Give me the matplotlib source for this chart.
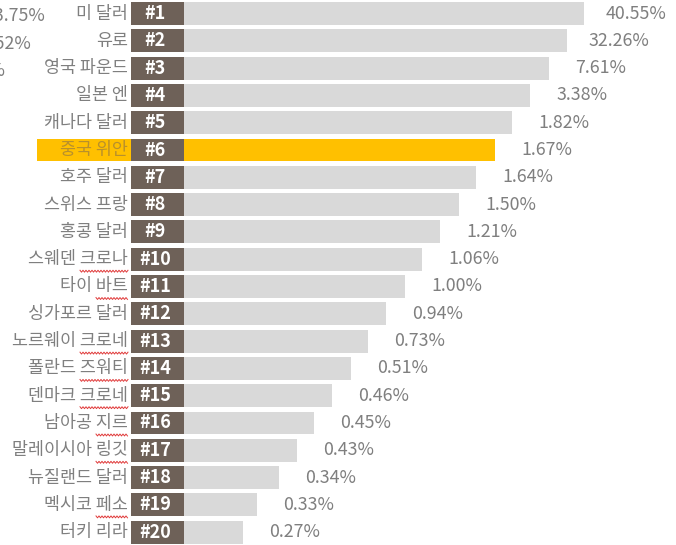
import matplotlib
matplotlib.use("Agg")
from matplotlib import pyplot as plt
import numpy as np

plt.rcParams["font.family"] = ["Noto Sans CJK KR", "DejaVu Sans"]

# Currency ranking (share of payments)
currencies = [
    "미 달러", "유로", "영국 파운드", "일본 엔", "캐나다 달러",
    "중국 위안", "호주 달러", "스위스 프랑", "홍콩 달러", "스웨덴 크로나",
    "타이 바트", "싱가포르 달러", "노르웨이 크로네", "폴란드 즈워티", "덴마크 크로네",
    "남아공 지르", "말레이시아 링깃", "뉴질랜드 달러", "멕시코 페소", "터키 리라",
]
shares = [
    40.55, 32.26, 7.61, 3.38, 1.82, 1.67, 1.64, 1.50, 1.21, 1.06,
    1.00, 0.94, 0.73, 0.51, 0.46, 0.45, 0.43, 0.34, 0.33, 0.27,
]
# displayed bar length (funnel style, not proportional to share)
bar_len = [453, 436, 418, 399, 381, 364, 345, 328, 309, 291,
           274, 255, 237, 220, 201, 183, 166, 148, 126, 112]
highlight = 5  # 중국 위안
# labels whose last word carries the spell-check squiggle
squiggled = [9, 10, 12, 13, 14, 15, 16, 18]

# cut-off labels from the neighbouring chart on the left
left_labels = ["33.75%", "25.52%", "5.45%"]
left_pos = [-86, -100, -125]

grey_bar = "#d9d9d9"
brown = "#6e6158"
gold = "#ffc000"
text_grey = "#7f7f7f"

fig = plt.figure(figsize=(6.76, 5.45), dpi=100)
ax = fig.add_axes([0, 0, 1, 1])
ax.set_xlim(-131, 545)
ax.set_ylim(19.47, -0.495)
ax.axis("off")

rows = np.arange(len(currencies))
h = 0.84

colors = [gold if i == highlight else grey_bar for i in rows]
ax.barh(rows, bar_len, height=h, color=colors, zorder=1)
# highlight band stretches under the label
ax.barh(highlight, 94, left=-94, height=h, color=gold, zorder=1)
# rank boxes
ax.barh(rows, 53, height=h, color=brown, zorder=2)

label_fs = 12.5
for i in rows:
    ax.text(24, i, f"#{i + 1}", ha="center", va="center", color="white",
            fontsize=13, fontweight="bold", zorder=3)
    ax.text(-3, i, currencies[i], ha="right", va="center", fontsize=label_fs,
            color="#b8902c" if i == highlight else text_grey, zorder=3)
    ax.text(bar_len[i] + 52, i, f"{shares[i]:.2f}%", ha="center", va="center",
            fontsize=12.8, color=text_grey, zorder=3)

for i, (lab, x) in enumerate(zip(left_labels, left_pos)):
    ax.text(x, i + 0.1, lab, ha="right", va="center", fontsize=12.8,
            color=text_grey)

# red wavy underline under the last word (1 data unit == 1 px horizontally)
renderer = fig.canvas.get_renderer()
for i in squiggled:
    word = currencies[i].split(" ")[-1]
    tmp = ax.text(0, 0, word, fontsize=label_fs)
    w = tmp.get_window_extent(renderer).width
    tmp.remove()
    xs = np.arange(-3 - w, -3 + 0.1, 1.5)
    ys = i + 0.44 + 0.035 * np.where(np.arange(len(xs)) % 2 == 0, -1, 1)
    ax.plot(xs, ys, color="#e03a3a", lw=0.7, zorder=3)

fig.savefig("out.png", dpi=100)
